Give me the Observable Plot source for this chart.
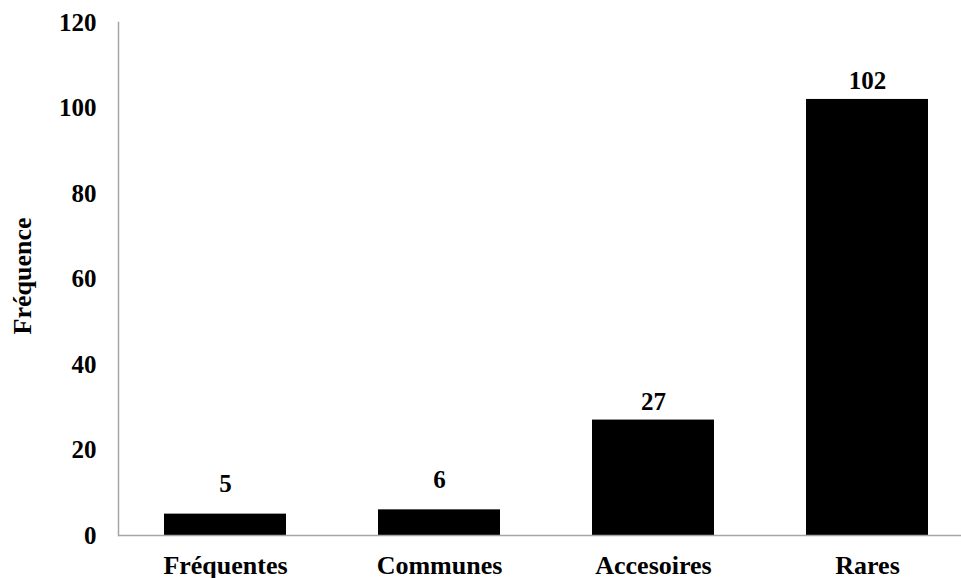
<!DOCTYPE html>
<html>
<head>
<meta charset="utf-8">
<script src="https://cdn.jsdelivr.net/npm/d3@7"></script>
<script src="https://cdn.jsdelivr.net/npm/@observablehq/plot@0.6"></script>
<style>
  html, body { margin: 0; padding: 0; background: #fff; overflow: hidden; }
  #chart { width: 961px; height: 578px; overflow: hidden; }
</style>
</head>
<body>
<div id="chart"></div>
<script>
const categories = ["Fréquentes", "Communes", "Accesoires", "Rares"];
const values = [5, 6, 27, 102];
const yTicks = [0, 20, 40, 60, 80, 100, 120];
const yLabel = "Fréquence";

const data = categories.map((c, i) => ({cat: c, value: values[i]}));
const font = "Liberation Serif";

const chart = Plot.plot({
  width: 961,
  height: 578,
  marginLeft: 118,
  marginTop: 22,
  marginBottom: 43,
  marginRight: 0,
  style: "font-family: 'Liberation Serif', serif; font-weight: bold; font-size: 25px; color: #000; background: #fff;",
  x: {domain: categories, range: [118, 974], paddingInner: 0.43, paddingOuter: 0.212, label: null},
  y: {domain: [0, 120], label: null},
  marks: [
    Plot.frame({anchor: "left", stroke: "#a6a6a6", strokeWidth: 1.5}),
    Plot.barY(data, {x: "cat", y: "value", fill: "#000"}),
    Plot.ruleY([0], {stroke: "#a6a6a6", strokeWidth: 1.5}),
    Plot.axisY({ticks: yTicks, tickSize: 0, tickPadding: 22, label: null, fontSize: 25, fontWeight: "bold", fontFamily: font}),
    Plot.axisX({tickSize: 0, tickPadding: 20, label: null, fontSize: 26, fontWeight: "bold", fontFamily: font}),
    Plot.text(data.filter(d => d.value >= 10), {x: "cat", y: "value", text: d => String(d.value), dy: -10, lineAnchor: "bottom", fontSize: 25, fontWeight: "bold", fontFamily: font, fill: "#000"}),
    Plot.text(data.filter(d => d.value < 10), {x: "cat", y: "value", text: d => String(d.value), dy: -22, lineAnchor: "bottom", fontSize: 25, fontWeight: "bold", fontFamily: font, fill: "#000"}),
    Plot.text([yLabel], {text: d => d, frameAnchor: "left", textAnchor: "middle", rotate: -90, dx: -96, dy: -3, fontSize: 26, fontWeight: "bold", fontFamily: font, fill: "#000"})
  ]
});
document.getElementById("chart").appendChild(chart);
</script>
</body>
</html>
